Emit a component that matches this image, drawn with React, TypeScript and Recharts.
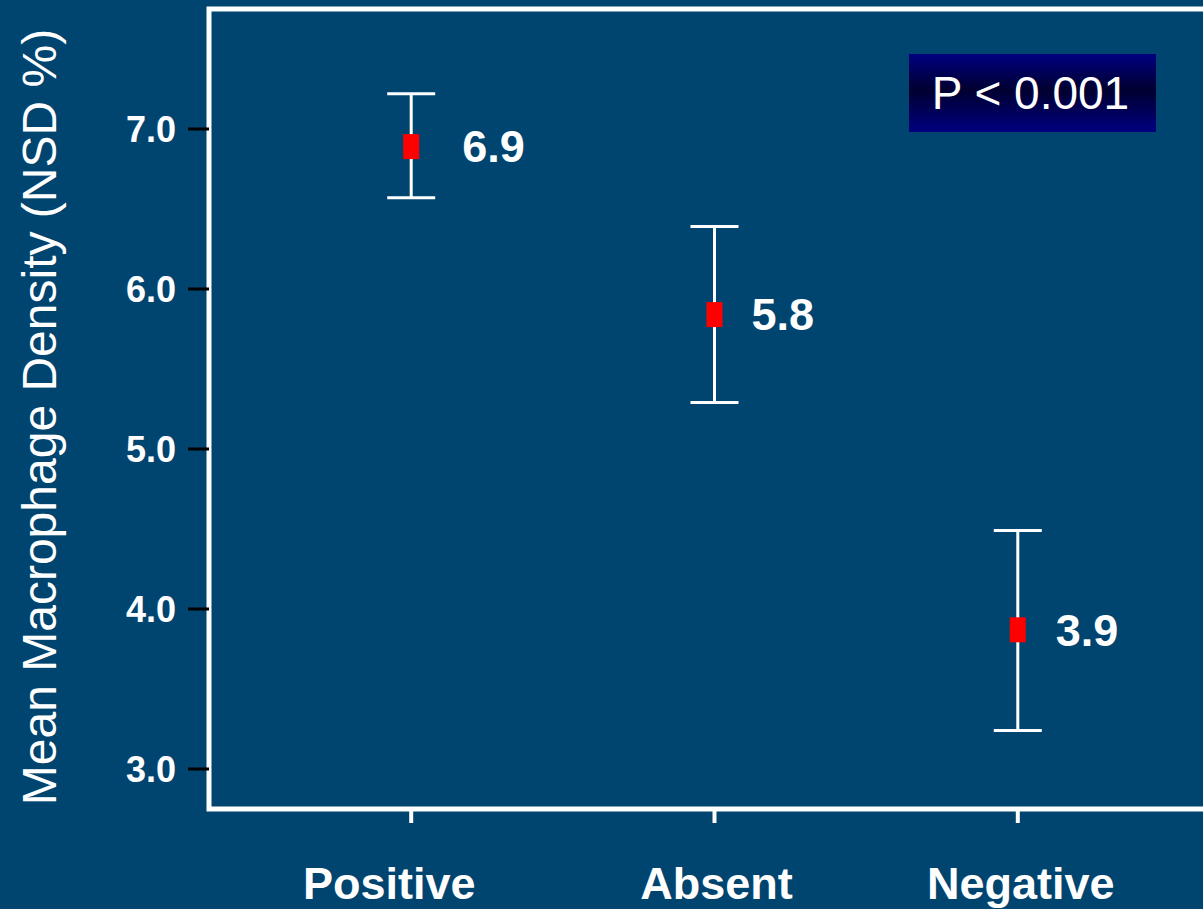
import { ComposedChart, Scatter, ErrorBar, XAxis, YAxis, ReferenceArea, LabelList } from 'recharts'

const groups = ['Positive', 'Absent', 'Negative']
const means = [6.89, 5.84, 3.87]
const ciLow = [6.57, 5.29, 3.24]
const ciHigh = [7.22, 6.39, 4.49]
const yTicks = [3, 4, 5, 6, 7]

const data = groups.map((g, i) => ({
  pos: i + 1,
  group: g,
  mean: means[i],
  err: [means[i] - ciLow[i], ciHigh[i] - means[i]],
}))

const FONT = '"Liberation Sans", Arial, Helvetica, sans-serif'
const BG = '#004470'

// horizontal nudges for the value labels and the category labels
const labelGap = [51, 37, 38]
const tickShift = [-22, 2, 3]

const Marker = (props: any) => {
  const { cx, cy } = props
  return <rect x={cx - 8} y={cy - 12.5} width={16} height={25} fill="#ff0000" />
}

const ValueLabel = (props: any) => {
  const { x, y, width, height, value, index } = props
  return (
    <text
      x={x + width / 2 + labelGap[index]}
      y={y + height / 2 + 4}
      fill="#fff"
      fontSize={45}
      fontWeight="bold"
      fontFamily={FONT}
      dominantBaseline="middle"
    >
      {Number(value).toFixed(1)}
    </text>
  )
}

const GroupTick = (props: any) => {
  const { x, y, payload } = props
  const i = payload.value - 1
  return (
    <text
      x={x + tickShift[i]}
      y={y}
      dy="0.71em"
      textAnchor="middle"
      fill="#fff"
      fontSize={45}
      fontWeight="bold"
      fontFamily={FONT}
    >
      {groups[i]}
    </text>
  )
}

export default function App() {
  return (
    <div style={{ position: 'absolute', left: 0, top: 0, width: 1203, height: 909, overflow: 'hidden', background: BG }}>
      <ComposedChart
        width={1230}
        height={909}
        data={data}
        margin={{ top: 9, right: 10, bottom: 0, left: 0 }}
      >
        <XAxis
          type="number"
          dataKey="pos"
          domain={[1 / 3, 11 / 3]}
          ticks={[1, 2, 3]}
          allowDataOverflow
          axisLine={false}
          tickLine={{ stroke: '#fff', strokeWidth: 4 }}
          tickSize={14}
          tickMargin={44}
          tick={GroupTick}
          height={100}
        />
        <YAxis
          type="number"
          domain={[2.75, 7.75]}
          ticks={yTicks}
          allowDataOverflow
          tickFormatter={(v: number) => v.toFixed(1)}
          axisLine={false}
          tickLine={{ stroke: '#000', strokeWidth: 3 }}
          tickSize={21}
          tickMargin={12}
          tick={{ fill: '#fff', fontSize: 36, fontWeight: 'bold', fontFamily: FONT }}
          width={209}
        />
        <ReferenceArea
          x1={1 / 3}
          x2={11 / 3}
          y1={2.75}
          y2={7.75}
          fill="none"
          stroke="#fff"
          strokeWidth={5}
          ifOverflow="visible"
        />
        <Scatter dataKey="mean" shape={Marker} isAnimationActive={false}>
          <ErrorBar dataKey="err" direction="y" width={24} stroke="#fff" strokeWidth={3} />
          <LabelList dataKey="mean" content={ValueLabel} />
        </Scatter>
        <text
          x={56}
          y={417}
          transform="rotate(-90 56 417)"
          textAnchor="middle"
          fill="#fff"
          fontSize={48}
          fontFamily={FONT}
        >
          Mean Macrophage Density (NSD %)
        </text>
      </ComposedChart>
      <div
        style={{
          position: 'absolute',
          left: 909,
          top: 54,
          width: 247,
          height: 78,
          background: 'linear-gradient(to bottom, #000080 0%, #000030 46%, #000080 100%)',
          color: '#fff',
          fontFamily: FONT,
          fontSize: 46,
          lineHeight: '78px',
          textAlign: 'center',
          paddingRight: 4,
          boxSizing: 'border-box',
        }}
      >
        P &lt; 0.001
      </div>
    </div>
  )
}
